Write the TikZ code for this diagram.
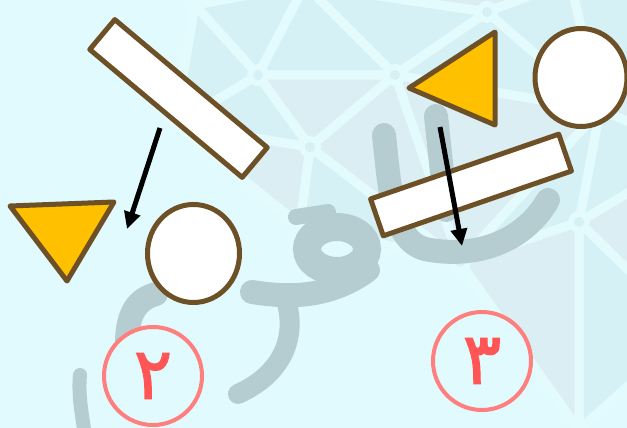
\documentclass[tikz,border=0pt]{standalone}
\usepackage{fontspec}
\newfontfamily\digitfont[Script=Arabic,FakeBold=1.6]{DejaVu Sans}
\usetikzlibrary{shapes.geometric,arrows.meta,positioning}
\definecolor{bgcyan}    {HTML}{E0FAFD}
\definecolor{tilecyan}  {HTML}{D5F1F5}
\definecolor{tilegray}  {HTML}{DBEEF3}
\definecolor{spokecyan} {HTML}{E4FBFE}
\definecolor{wmgray}    {HTML}{B5CDD1}
\definecolor{shapebrown}{HTML}{6E5026}
\definecolor{shapeamber}{HTML}{FFC000}
\definecolor{ringpink}  {HTML}{FF7F7F}
\definecolor{digitred}  {HTML}{FF5555}

\begin{document}
\begin{tikzpicture}[
  bar/.style  ={draw=shapebrown,fill=white,line width=5pt,line join=round,
                minimum width=199pt,minimum height=39pt,inner sep=0pt},
  disc/.style ={ellipse,draw=shapebrown,fill=white,line width=5pt,
                minimum width=92pt,minimum height=98pt,inner sep=0pt},
  tri/.style  ={draw=shapebrown,fill=shapeamber,line width=5pt,line join=round},
  arr/.style  ={-{Triangle[length=17pt,width=16pt]},line width=5pt},
  num/.style  ={circle,draw=ringpink,fill=bgcyan,line width=4pt,
                minimum size=98pt,inner sep=0pt,text=digitred,
                font=\digitfont\fontsize{72}{72}\selectfont},
  wm/.style   ={draw=wmgray,line width=24pt,line cap=round},
  spoke/.style={draw=spokecyan,line width=9pt,line join=round},
  x=1pt, y=-1pt
]
%% canvas 627 x 428 (pixel units, y downwards)
\useasboundingbox (0,0) rectangle (627,428);
\fill[bgcyan] (0,0) rectangle (627,428);

%% ===== faint logo in the background =====
\begin{scope}
\clip (0,0) rectangle (627,428);
\coordinate (h1)  at (258,75);   \coordinate (h2)  at (395,75);
\coordinate (h3)  at (310,147);  \coordinate (h4)  at (487,12);
\coordinate (h5)  at (579,222);  \coordinate (h6)  at (600,110);
\coordinate (h7)  at (460,262);  \coordinate (h8)  at (300,225);
\coordinate (h9)  at (195,5);    \coordinate (h10) at (305,-15);
\coordinate (h11) at (570,-20);  \coordinate (h12) at (579,430);
\coordinate (h13) at (690,330);  \coordinate (h14) at (175,125);
\coordinate (h15) at (700,150);  \coordinate (h16) at (700,-20);
\def\tiles{h9/h10/h1/tilecyan, h10/h2/h1/tilecyan, h1/h2/h3/tilegray,
  h14/h1/h3/tilecyan, h9/h1/h14/tilecyan, h14/h3/h8/tilegray,
  h3/h7/h8/tilecyan, h3/h2/h7/tilegray, h10/h4/h2/tilecyan,
  h10/h11/h4/tilegray, h4/h6/h2/tilecyan, h2/h6/h7/tilegray,
  h4/h11/h6/tilecyan, h11/h16/h6/tilecyan, h16/h15/h6/tilegray,
  h6/h5/h7/tilecyan, h6/h15/h5/tilecyan, h7/h5/h12/tilegray,
  h5/h13/h12/tilecyan, h5/h15/h13/tilegray}
\foreach \p/\q/\r/\c in \tiles
  \fill[\c] (\p) -- (\q) -- (\r) -- cycle;
\foreach \p/\q/\r/\c in \tiles
  \draw[spoke] (\p) -- (\q) -- (\r) -- cycle;
\foreach \h in {h1,h2,h3,h4,h5,h6,h7}{
  \fill[spokecyan] (\h) circle (11pt);
  \fill[tilecyan]  (\h) circle (5pt);
}
%% grey letters
\draw[wm,line width=28pt] (337,249) ellipse [x radius=30pt, y radius=22pt];
\draw[wm,line width=16pt] (296,217) -- (328,212);
\draw[wm] (368,270) .. controls (330,298) and (290,298) .. (252,292);
\draw[wm,line width=20pt] (286,300) .. controls (298,340) and (280,375) .. (238,394);
\draw[wm] (384,135) .. controls (390,190) and (392,245) .. (430,250)
          .. controls (480,258) and (525,240) .. (548,200);
\draw[wm] (436,116) -- (446,210);
\draw[wm] (156,294) .. controls (138,299) and (128,312) .. (127,340);
\draw[wm,line width=14pt] (80,375) .. controls (78,395) and (82,415) .. (85,435);
\end{scope}

%% ===== upper row =====
\node[bar,rotate=-40] (barL) at (178.5,98.5) {};
\node[bar,rotate=19]  (barR) at (471,185)    {};
\node[disc] (discL) at (193.5,253.5) {};
\node[disc] (discR) at (581,77.5)    {};

%% triangles
\coordinate (tL1) at (10,206);  \coordinate (tL2) at (114,202);
\coordinate (tL3) at (67,281);
\draw[tri] (tL1) -- (tL2) -- (tL3) -- cycle;
\coordinate (tR1) at (409,88);  \coordinate (tR2) at (495,32);
\coordinate (tR3) at (495,125);
\draw[tri] (tR1) -- (tR2) -- (tR3) -- cycle;

%% arrows
\coordinate (aL0) at (160,128);  \coordinate (aL1) at (127,229);
\coordinate (aR0) at (440,127);  \coordinate (aR1) at (462,246);
\draw[arr] (aL0) -- (aL1);
\draw[arr] (aR0) -- (aR1);

%% numbers
\node[num] (n2) at (153,376) {٢};
\node[num] (n3) at (482,361) {٣};

\end{tikzpicture}
\end{document}
